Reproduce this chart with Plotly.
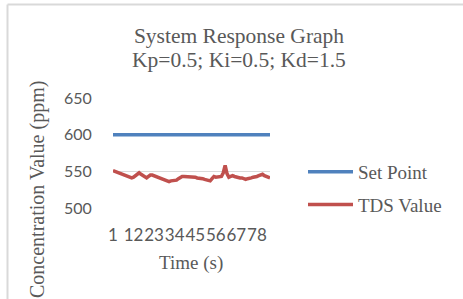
import plotly.graph_objects as go

# ---------------- data ----------------
time_s = list(range(1, 86))
SET_POINT = 600
set_point = [SET_POINT for _ in time_s]
tds_value = [
    551, 550, 549, 549, 548, 547, 546, 545, 544, 542,
    541, 542, 544, 546, 548, 546, 544, 542, 541, 543,
    545, 545, 544, 542, 542, 541, 540, 538, 537, 536,
    536, 537, 537, 537, 538, 540, 542, 543, 543, 543,
    542, 542, 543, 543, 542, 541, 541, 540, 540, 539,
    538, 537, 537, 540, 543, 542, 542, 542, 543, 548,
    558, 547, 542, 543, 544, 543, 542, 542, 541, 541,
    540, 539, 540, 540, 541, 542, 542, 543, 544, 545,
    546, 544, 543, 542, 541,
]
x_tick_vals = [1, 12, 23, 34, 45, 56, 67, 78]
x_tick_text = [str(v) for v in x_tick_vals]
y_tick_vals = [500, 550, 600, 650]
series_names = ["Set Point", "TDS Value"]
title_line1 = "System Response Graph"
title_line2 = "Kp=0.5; Ki=0.5; Kd=1.5"
x_title = "Time (s)"
y_title = "Concentration Value (ppm)"

# ---------------- layout constants ----------------
W, H = 463, 299
L, R, T, B = 113, 193, 98, 91
PW, PH = W - L - R, H - T - B

def px(xp):
    return (xp - L) / PW

def py(yp):
    return (H - B - yp) / PH

SERIF = "Liberation Serif"
SANS = "Lato"
TXT = "#595959"

fig = go.Figure()
fig.add_trace(go.Scatter(x=time_s, y=set_point, mode="lines", name=series_names[0],
                         legendgroup="a",
                         line=dict(color="#4F81BD", width=3.5)))
fig.add_trace(go.Scatter(x=time_s, y=tds_value, mode="lines", name=series_names[1],
                         legendgroup="b",
                         line=dict(color="#C0504D", width=3.5)))

fig.update_layout(
    width=W, height=H,
    margin=dict(l=L, r=R, t=T, b=B, autoexpand=False),
    paper_bgcolor="white", plot_bgcolor="white",
    title=dict(text=title_line1, x=239 / W, xref="container",
               xanchor="center", y=1 - 35 / H, yanchor="middle",
               font=dict(family=SERIF, size=21.5, color=TXT)),
    showlegend=True,
    legend=dict(x=px(303), xanchor="left", y=py(153), yanchor="top",
                font=dict(family=SERIF, size=19, color=TXT),
                traceorder="grouped", tracegroupgap=5, itemwidth=45,
                bgcolor="rgba(0,0,0,0)", borderwidth=0),
    xaxis=dict(range=[1, 85], tickmode="array", tickvals=x_tick_vals, ticktext=x_tick_text,
               tickangle=0, showgrid=False, zeroline=False, showline=False,
               ticks="outside", ticklen=12, tickcolor="rgba(0,0,0,0)",
               tickfont=dict(family=SANS, size=17, color=TXT)),
    yaxis=dict(range=[500, 650], tickmode="array", tickvals=y_tick_vals,
               showgrid=True, gridcolor="#D9D9D9", gridwidth=1, zeroline=False, showline=False,
               ticks="outside", ticklen=17, tickcolor="rgba(0,0,0,0)",
               tickfont=dict(family=SANS, size=16, color=TXT)),
    annotations=[
        dict(text=title_line2, xref="paper", yref="paper", x=px(239), y=py(60),
             xanchor="center", yanchor="middle", showarrow=False,
             font=dict(family=SERIF, size=21.5, color=TXT)),
        dict(text=x_title, xref="paper", yref="paper", x=px(191), y=py(263),
             xanchor="center", yanchor="middle", showarrow=False,
             font=dict(family=SERIF, size=19, color=TXT)),
        dict(text=y_title, xref="paper", yref="paper", x=px(37), y=py(190),
             xanchor="center", yanchor="middle", showarrow=False, textangle=-90,
             font=dict(family=SERIF, size=20, color=TXT)),
    ],
    shapes=[
        dict(type="line", xref="paper", yref="paper", x0=px(7.5), x1=px(W + 5), y0=py(4.5), y1=py(4.5),
             line=dict(color="#D9D9D9", width=2)),
        dict(type="line", xref="paper", yref="paper", x0=px(7.5), x1=px(7.5), y0=py(4.5), y1=py(H + 5),
             line=dict(color="#D9D9D9", width=2)),
    ],
)

fig.write_html("out.html", config={"displayModeBar": False},
               post_script="document.body.style.margin='0';document.body.style.overflow='hidden';")
